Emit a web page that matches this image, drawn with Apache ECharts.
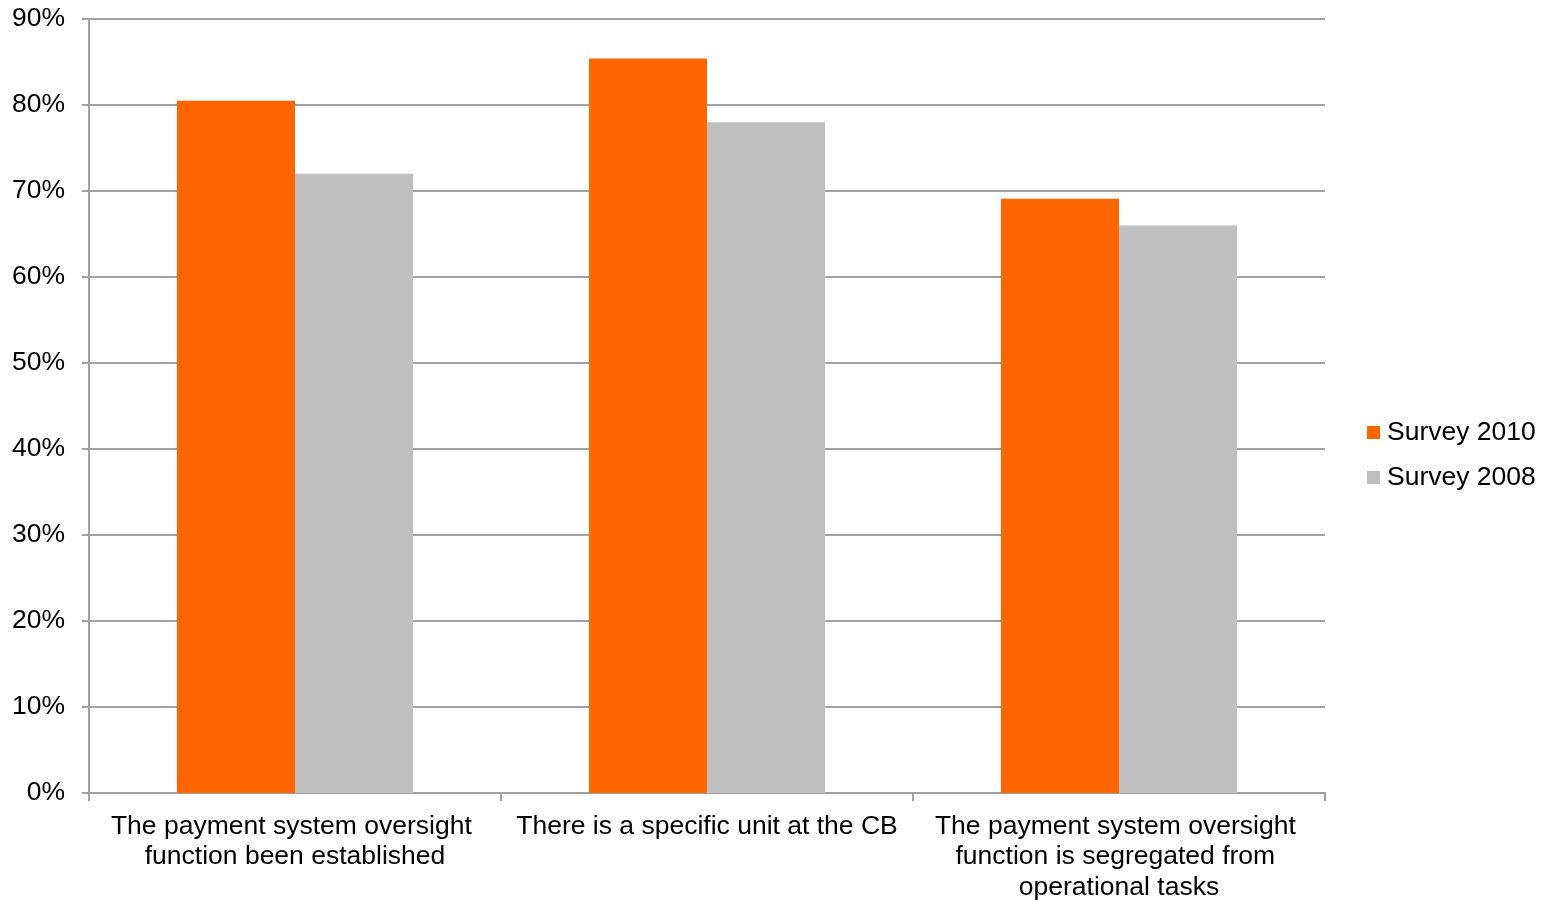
<!DOCTYPE html>
<html><head><meta charset="utf-8">
<script src="https://cdn.jsdelivr.net/npm/echarts@6/dist/echarts.min.js"></script>
<style>html,body{margin:0;padding:0;background:#fff}#c{width:1547px;height:900px}</style>
</head><body><div id="c"></div>
<script>
const categories = [
  "The payment system oversight function been established",
  "There is a specific unit at the CB",
  "The payment system oversight function is segregated from operational tasks"
];
const survey2010 = [0.805, 0.854, 0.691];
const survey2008 = [0.72, 0.78, 0.66];
const seriesNames = ["Survey 2010", "Survey 2008"];

const chart = echarts.init(document.getElementById('c'));
const font = 'Liberation Sans, Arial, sans-serif';
chart.setOption({
  animation: false,
  textStyle: {fontFamily: font},
  grid: {left: 89, right: 222, top: 19, bottom: 107, containLabel: false, outerBoundsMode: 'none'},
  legend: {
    orient: 'vertical', left: 1367, top: 419, padding: 0,
    itemWidth: 13, itemHeight: 13, itemGap: 18, icon: 'rect',
    textStyle: {fontSize: 26.5, color: '#000', fontFamily: font, padding: [0,0,0,2]},
    data: seriesNames
  },
  xAxis: {
    type: 'category', data: categories,
    axisLine: {lineStyle: {color: '#a0a0a0', width: 2}},
    axisTick: {show: true, length: 8, lineStyle: {color: '#a0a0a0', width: 2}},
    axisLabel: {interval: 0, fontSize: 26.5, color: '#000', width: 400, overflow: 'break', lineHeight: 30.5, margin: 18, fontFamily: font}
  },
  yAxis: {
    type: 'value', min: 0, max: 0.9, interval: 0.1,
    axisLine: {show: true, lineStyle: {color: '#a0a0a0', width: 2}},
    axisTick: {show: true, length: 7, lineStyle: {color: '#a0a0a0', width: 2}},
    splitLine: {lineStyle: {color: '#a0a0a0', width: 2}},
    axisLabel: {fontSize: 26.5, color: '#000', margin: 24, fontFamily: font,
      formatter: v => Math.round(v * 100) + '%'}
  },
  series: [
    {name: seriesNames[0], type: 'bar', data: survey2010, barGap: '0%', barCategoryGap: '42.7%',
     itemStyle: {color: '#FF6600'}},
    {name: seriesNames[1], type: 'bar', data: survey2008, barGap: '0%', barCategoryGap: '42.7%',
     itemStyle: {color: '#BFBFBF'}}
  ]
});
</script></body></html>
